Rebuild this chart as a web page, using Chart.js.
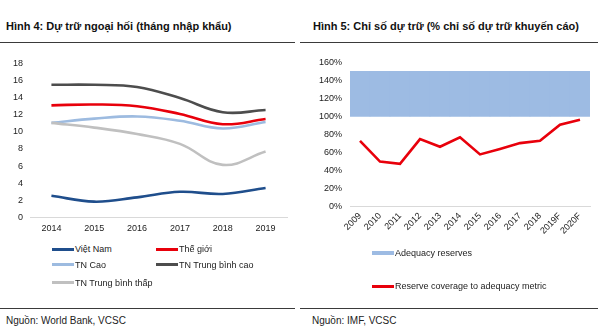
<!DOCTYPE html>
<html>
<head>
<meta charset="utf-8">
<script src="https://cdn.jsdelivr.net/npm/chart.js@4/dist/chart.umd.min.js"></script>
<style>
  html, body { margin: 0; padding: 0; background: #fff; }
  body { width: 599px; height: 334px; position: relative; overflow: hidden;
         font-family: "Liberation Sans", Arial, sans-serif; color: #111; }
  .title { position: absolute; top: 20px; font-weight: bold; font-size: 11px; white-space: nowrap; }
  .rule { position: absolute; height: 1px; background: #3a3a3a; }
  .src { position: absolute; top: 315px; font-size: 10px; white-space: nowrap; color: #222; }
  .cv { position: absolute; }
  .lg { position: absolute; font-size: 9px; white-space: nowrap; color: #222; line-height: 12px; }
  .lg i { position: absolute; left: 0; height: 3px; top: 5px; }
</style>
</head>
<body>
<div class="title" style="left:6px">Hình 4: Dự trữ ngoại hối (tháng nhập khẩu)</div>
<div class="title" style="left:313px">Hình 5: Chỉ số dự trữ (% chỉ số dự trữ khuyến cáo)</div>
<div class="rule" style="left:0;width:295px;top:42px"></div>
<div class="rule" style="left:300px;width:298px;top:42px"></div>

<canvas id="c1" class="cv" style="left:0;top:51px" width="300" height="184"></canvas>
<canvas id="c2" class="cv" style="left:300px;top:49px" width="299" height="201"></canvas>

<div id="lg1"></div>
<div id="lg2"></div>

<div class="rule" style="left:0;width:295px;top:308px"></div>
<div class="rule" style="left:300px;width:298px;top:308px"></div>
<div class="src" style="left:6px">Nguồn: World Bank, VCSC</div>
<div class="src" style="left:312px">Nguồn: IMF, VCSC</div>

<script>
// Foreign reserves, months of imports
const years = ['2014', '2015', '2016', '2017', '2018', '2019'];
const vietNam      = [2.55, 1.85, 2.35, 3.0, 2.75, 3.45];
const theGioi      = [13.1, 13.2, 13.0, 12.1, 10.9, 11.5];
const tnCao        = [11.05, 11.55, 11.8, 11.3, 10.4, 11.15];
const tnTbCao      = [15.5, 15.5, 15.25, 13.95, 12.3, 12.55];
const tnTbThap     = [11.05, 10.5, 9.75, 8.6, 6.15, 7.7];
const yTicks1      = [0, 2, 4, 6, 8, 10, 12, 14, 16, 18];

// Reserve adequacy, % of recommended metric
const periods = ['2009', '2010', '2011', '2012', '2013', '2014', '2015', '2016', '2017', '2018', '2019F', '2020F'];
const coverage = [73, 50, 47.5, 75, 66.5, 77, 58, 64, 70.5, 73, 91, 96.5];
const adequacyLow = 100;
const adequacyHigh = 150;
const yTicks2 = [0, 20, 40, 60, 80, 100, 120, 140, 160];

const tickFont = { family: '"Liberation Sans", Arial, sans-serif', size: 9 };
const tickColor = '#222';

const series1 = [
  { label: 'Việt Nam', data: vietNam, color: '#1f4e8c' },
  { label: 'Thế giới', data: theGioi, color: '#e8000b' },
  { label: 'TN Cao', data: tnCao, color: '#9dbbe0' },
  { label: 'TN Trung bình cao', data: tnTbCao, color: '#4d4d4d' },
  { label: 'TN Trung bình thấp', data: tnTbThap, color: '#c0c0c0' }
];

new Chart(document.getElementById('c1'), {
  type: 'line',
  data: {
    labels: years,
    datasets: series1.map(s => ({
      label: s.label, data: s.data, borderColor: s.color, backgroundColor: s.color,
      borderWidth: 2.6, pointRadius: 0, tension: 0.4, fill: false
    })).reverse()
  },
  options: {
    responsive: false, animation: false,
    layout: { padding: { top: 2, right: 13, left: 0, bottom: 0 } },
    plugins: { legend: { display: false }, tooltip: { enabled: false } },
    scales: {
      x: {
        offset: true,
        grid: { display: false, drawTicks: false },
        border: { display: true, color: '#d9d9d9', width: 1 },
        ticks: { font: tickFont, color: tickColor, padding: 6, maxRotation: 0 },
        afterFit: a => { a.height = 17.5; }
      },
      y: {
        min: 0, max: 18,
        grid: { display: false, drawTicks: false },
        border: { display: false },
        afterBuildTicks: a => { a.ticks = yTicks1.map(v => ({ value: v })); },
        ticks: { font: tickFont, color: tickColor, padding: 7 },
        afterFit: a => { a.width = 30; }
      }
    }
  }
});

new Chart(document.getElementById('c2'), {
  data: {
    labels: periods,
    datasets: [
      {
        type: 'line', label: 'Reserve coverage to adequacy metric', data: coverage,
        borderColor: '#e8000b', borderWidth: 2.6, pointRadius: 0, tension: 0, order: 0
      },
      {
        type: 'bar', label: 'Adequacy reserves',
        data: periods.map(() => [adequacyLow, adequacyHigh]),
        backgroundColor: '#9dbbe3', borderWidth: 0,
        barPercentage: 1.0, categoryPercentage: 1.0, order: 1
      }
    ]
  },
  options: {
    responsive: false, animation: false,
    layout: { padding: { top: 2, right: 9, left: 0, bottom: 0 } },
    plugins: { legend: { display: false }, tooltip: { enabled: false } },
    scales: {
      x: {
        offset: true,
        grid: { display: false, drawTicks: false },
        border: { display: true, color: '#d9d9d9', width: 1 },
        ticks: { font: tickFont, color: tickColor, padding: 4, minRotation: 45, maxRotation: 45 },
        afterFit: a => { a.height = 43.3; }
      },
      y: {
        min: 0, max: 160,
        grid: { display: false, drawTicks: false },
        border: { display: false },
        afterBuildTicks: a => { a.ticks = yTicks2.map(v => ({ value: v })); },
        ticks: { font: tickFont, color: tickColor, padding: 8, callback: v => v + '%' },
        afterFit: a => { a.width = 50; }
      }
    }
  }
});

// Legends
function legendItem(parent, x, y, w, color, h, text) {
  const d = document.createElement('div');
  d.className = 'lg';
  d.style.left = x + 'px';
  d.style.top = (y - 6) + 'px';
  d.style.paddingLeft = (w + 1) + 'px';
  d.textContent = text;
  const i = document.createElement('i');
  i.style.width = w + 'px';
  i.style.background = color;
  i.style.height = h + 'px';
  i.style.top = (6 - h / 2) + 'px';
  d.appendChild(i);
  parent.appendChild(d);
}
const lg1 = document.getElementById('lg1');
const pos1 = [[52, 249], [156, 249], [52, 264.5], [156, 264.5], [52, 282.5]];
series1.forEach((s, k) => legendItem(lg1, pos1[k][0], pos1[k][1], 22, s.color, 3, s.label));
const lg2 = document.getElementById('lg2');
legendItem(lg2, 372, 253, 22, '#9dbbe3', 4, 'Adequacy reserves');
legendItem(lg2, 372, 286, 22, '#e8000b', 3, 'Reserve coverage to adequacy metric');
</script>
</body>
</html>
